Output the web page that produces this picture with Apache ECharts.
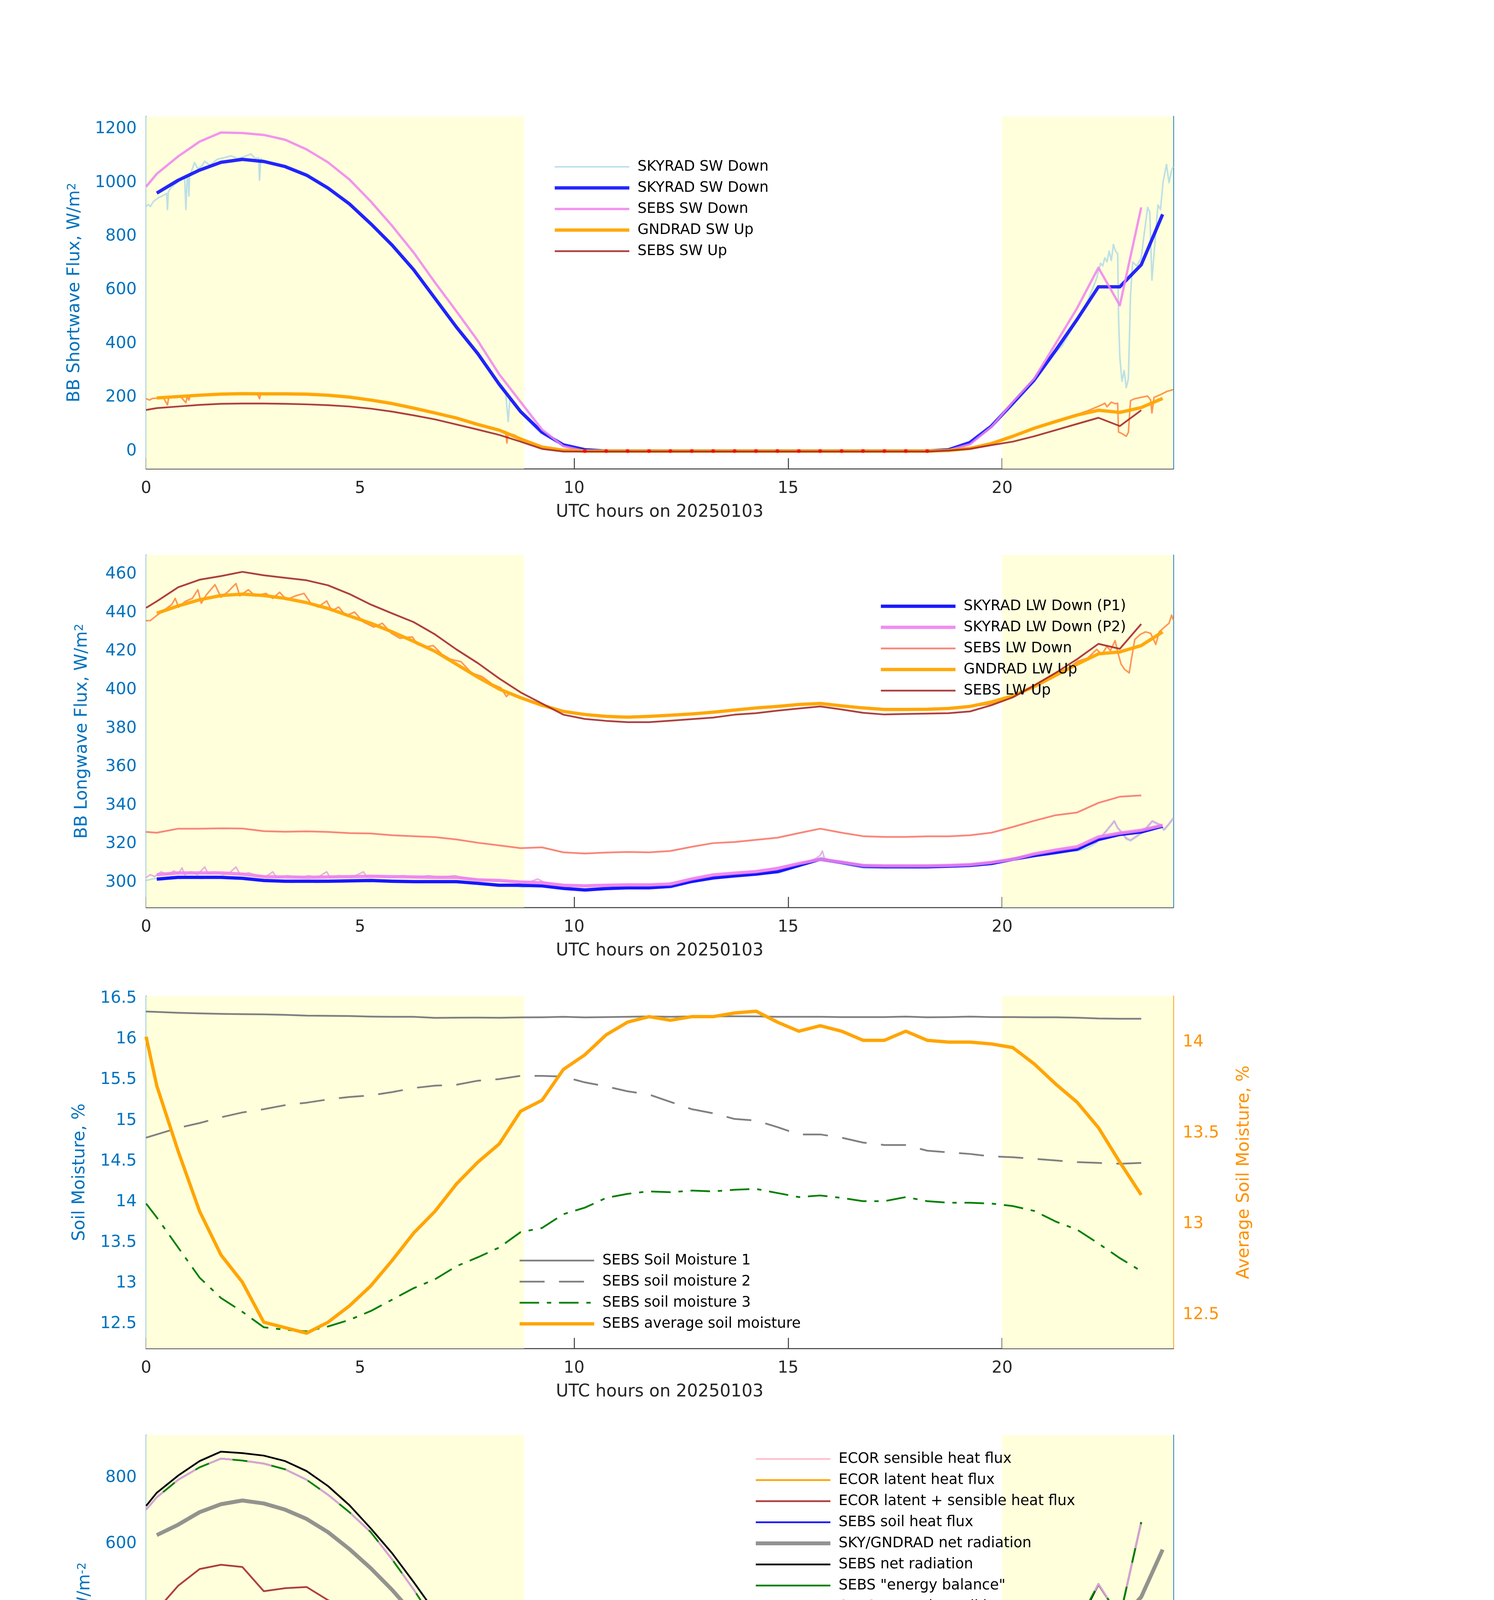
<!DOCTYPE html>
<html><head><meta charset="utf-8">
<script src="https://cdn.jsdelivr.net/npm/echarts@6/dist/echarts.min.js"></script>
<style>html,body{margin:0;padding:0;background:#fff}#c{width:3825px;height:4875px}</style>
</head><body><div id="c"></div>
<script>
// ---------- time axes (UTC hours) ----------
const tSebs = [0,0.25,0.75,1.25,1.75,2.25,2.75,3.25,3.75,4.25,4.75,5.25,5.75,6.25,6.75,7.25,7.75,8.25,8.75,9.25,9.75,10.25,10.75,11.25,11.75,12.25,12.75,13.25,13.75,14.25,14.75,15.25,15.75,16.25,16.75,17.25,17.75,18.25,18.75,19.25,19.75,20.25,20.75,21.25,21.75,22.25,22.75,23.25];
const tRad = [0.25,0.75,1.25,1.75,2.25,2.75,3.25,3.75,4.25,4.75,5.25,5.75,6.25,6.75,7.25,7.75,8.25,8.75,9.25,9.75,10.25,10.75,11.25,11.75,12.25,12.75,13.25,13.75,14.25,14.75,15.25,15.75,16.25,16.75,17.25,17.75,18.25,18.75,19.25,19.75,20.25,20.75,21.25,21.75,22.25,22.75,23.25,23.75];
const nightBands = [[0, 8.83], [20, 24]];
const xTicks = [0,5,10,15,20];

// ---------- panel 1: shortwave ----------
const swTicks = [0,200,400,600,800,1000,1200];
const skyradSwDown1min = [[0,911],[0.05,919],[0.1,911],[0.17,930],[0.3,945],[0.4,952],[0.48,960],[0.5,900],[0.52,965],[0.57,980],[0.72,1000],[0.82,1015],[0.9,1018],[0.93,900],[0.96,1022],[0.98,1025],[1.0,950],[1.02,1030],[1.05,1036],[1.13,1075],[1.21,1052],[1.3,1062],[1.37,1080],[1.49,1064],[1.66,1087],[1.82,1093],[1.98,1100],[2.14,1090],[2.31,1098],[2.45,1107],[2.55,1090],[2.63,1092],[2.65,1009],[2.68,1090],[2.75,1080],[3.25,1058],[3.75,1026],[4.25,978],[4.75,918],[5.25,845],[5.75,764],[6.25,673],[6.75,566],[7.25,459],[7.75,360],[8.25,245],[8.4,217],[8.46,110],[8.5,194],[8.76,142],[8.92,121],[9.13,89],[9.25,70],[9.75,20],[10.25,3],[10.75,0],[18.25,0],[18.75,4],[19.25,28],[19.75,88],[20.25,172],[20.75,258],[21.25,368],[21.4,392],[21.75,488],[22.0,560],[22.2,640],[22.3,700],[22.35,690],[22.4,720],[22.45,705],[22.5,745],[22.55,710],[22.6,770],[22.65,745],[22.7,735],[22.72,500],[22.75,350],[22.8,260],[22.85,300],[22.9,236],[22.95,270],[23.0,581],[23.05,704],[23.15,690],[23.25,720],[23.33,823],[23.4,908],[23.45,890],[23.5,637],[23.56,755],[23.64,917],[23.7,900],[23.76,1002],[23.84,1068],[23.9,1000],[23.95,1040],[24,1061]];
const skyradSwDown = [961,1009,1047,1076,1087,1079,1060,1028,980,921,847,767,676,569,462,363,249,147,70,23,5,0,0,0,0,0,0,0,0,0,0,0,0,0,0,0,0,5,32,93,178,265,375,490,612,612,694,882];
const sebsSwDown = [985,1033,1098,1153,1187,1185,1178,1160,1124,1076,1012,930,839,740,628,521,411,286,183,80,18,0,0,0,0,0,0,0,0,0,0,0,0,0,0,0,0,0,3,25,90,183,270,400,532,683,543,908];
const gndradSwUp = [198,203,208,212,214,213,213,212,208,201,190,177,160,142,123,99,78,45,15,3,0,0,0,0,0,0,0,0,0,0,0,0,0,0,0,0,0,2,10,28,55,85,110,134,152,144,162,196];
const gndradSwUp1min = [[0,195],[0.08,190],[0.15,196],[0.25,197],[0.4,200],[0.5,172],[0.53,201],[0.8,204],[0.93,180],[0.96,205],[1.0,190],[1.03,207],[1.3,209],[1.6,212],[2.0,214],[2.6,213],[2.65,195],[2.68,213],[3.25,212],[4.25,207],[5.25,189],[6.25,159],[7.25,122],[7.75,98],[8.25,77],[8.4,72],[8.43,30],[8.46,65],[8.6,60],[8.75,45],[9.25,15],[9.75,3],[10.25,0],[18.75,2],[19.25,10],[19.75,28],[20.25,55],[20.75,85],[21.25,110],[21.75,136],[22.0,150],[22.3,170],[22.4,178],[22.45,165],[22.55,182],[22.65,176],[22.7,178],[22.72,71],[22.8,65],[22.9,55],[22.95,70],[23.0,188],[23.1,195],[23.25,200],[23.4,205],[23.47,190],[23.5,142],[23.55,200],[23.7,210],[23.85,222],[24,229]];
const sebsSwUp = [153,160,166,172,176,177,177,176,174,171,166,158,147,133,118,99,80,60,35,8,-2,-2,-2,-2,-2,-2,-2,-2,-2,-2,-2,-2,-2,-2,-2,-2,-2,-2,2,8,22,35,55,78,101,124,93,152];
const swFlagT = [10.25,10.75,11.25,11.75,12.25,12.75,13.25,13.75,14.25,14.75,15.25,15.75,16.25,16.75,17.25,17.75,18.25];
const swFlagV = [0,0,0,0,0,0,0,0,0,0,0,0,0,0,0,0,0];

// ---------- panel 2: longwave ----------
const lwTicks = [300,320,340,360,380,400,420,440,460];
const skyLwP1 = [301.7,302.6,302.6,302.6,302.1,301.0,300.6,300.6,300.6,300.8,301.0,300.6,300.4,300.4,300.4,299.5,298.5,298.5,298.2,296.9,296.1,296.8,297.2,297.2,297.9,300.5,302.3,303.4,304.3,305.6,308.8,312.0,310.3,308.4,308.1,308.1,308.1,308.4,308.8,309.8,312.0,313.9,315.5,317.2,322.3,324.9,326.2,329.2];
const skyLwP2 = [304.0,304.9,304.9,304.9,304.3,303.0,302.8,302.6,302.8,303.0,303.2,303.0,302.8,302.6,302.6,301.3,301.0,300.2,299.8,298.5,298.2,298.5,298.7,298.7,299.1,301.8,303.9,304.8,305.6,307.2,309.8,312.0,310.5,308.8,308.6,308.6,308.6,308.8,309.2,310.4,312.0,314.8,316.8,318.5,323.6,325.6,327.1,329.7];
const skyLwP1min = [[0,301],[0.2,302],[0.4,301.5],[0.6,303],[0.8,302],[1.0,303],[1.3,302],[1.6,303],[1.9,302],[2.2,302.5],[2.5,301.5],[2.8,300.5],[3.1,301],[3.4,300],[3.7,300.8],[4.0,300],[4.3,301],[4.6,300.2],[4.9,301],[5.2,300.5],[5.5,301],[5.8,300.2],[6.1,300.6],[6.4,300],[6.7,300.6],[7.0,300],[7.3,300.4],[7.6,299.5],[7.9,299],[8.2,298.5],[8.5,298.8],[8.8,297.5],[9.1,298.5],[9.4,298],[9.7,297],[10.0,296.3],[10.3,295.5],[10.6,296.5],[11,297],[12,297.5],[12.5,299.5],[13,301.5],[14,303.8],[14.8,305],[15,306.5],[15.5,310.5],[15.8,313],[16,311],[16.5,308.5],[16.8,307.3],[17,307.5],[17.5,307.8],[18,307.6],[18.5,308],[19,308.5],[19.5,309.3],[20,310.8],[20.5,313],[21,314.8],[21.5,316.3],[21.8,316.5],[22,318],[22.2,320.5],[22.4,325.5],[22.55,329.5],[22.62,331.5],[22.7,328],[22.8,325.5],[22.9,322.5],[23.0,321.5],[23.1,323],[23.2,324.5],[23.35,327.5],[23.45,330],[23.51,331.5],[23.6,330.5],[23.7,329.5],[23.78,327],[23.88,329.5],[24,333]];
const skyLwP2min = [[0,302.5],[0.1,304],[0.2,303],[0.35,305.5],[0.5,304],[0.65,306],[0.75,304.5],[0.84,307.5],[0.9,304],[1.05,305.5],[1.2,304],[1.37,308],[1.45,304.5],[1.6,305.5],[1.8,304],[1.95,305],[2.1,308],[2.2,304],[2.4,305],[2.6,303.5],[2.8,303],[2.96,305.5],[3.05,302.5],[3.3,303.5],[3.6,302.5],[3.8,303.5],[4.0,302.5],[4.22,305.5],[4.3,302.5],[4.5,303.5],[4.8,302.5],[5.08,305.5],[5.15,303],[5.4,303.5],[5.7,302.5],[6.0,303.5],[6.3,302.5],[6.6,303.5],[6.9,302.5],[7.2,303.5],[7.5,302],[7.8,301.5],[8.1,301],[8.4,300.5],[8.7,300.3],[9.0,300.5],[9.15,301.8],[9.3,300],[9.6,298.8],[9.9,298.3],[12,298.8],[13,302.5],[14,305],[15,308.5],[15.5,311],[15.65,312.5],[15.75,314],[15.8,316.3],[15.85,312.5],[16,311.5],[16.5,309.5],[17,308.5],[17.5,308.6],[18,308.3],[18.5,308.7],[19,309],[19.5,309.8],[20,311.2],[20.5,313.5],[21,315.8],[21.5,317.6],[21.8,318],[22.0,319.5],[22.2,321],[22.4,326],[22.55,330],[22.62,332],[22.7,328.5],[22.8,326],[22.9,323],[23.0,322],[23.1,323.5],[23.2,325],[23.35,328],[23.45,330.5],[23.51,332],[23.6,331],[23.7,330],[23.78,327.5],[23.88,330],[24,333.5]];
const sebsLwDown = [326.2,325.8,327.9,327.9,328.1,328.0,326.6,326.3,326.5,326.2,325.6,325.4,324.5,324.0,323.5,322.3,320.6,319.2,317.8,318.2,315.6,315.0,315.5,315.8,315.6,316.3,318.5,320.4,321.0,322.1,323.2,325.6,327.9,325.8,324.0,323.6,323.6,323.9,323.9,324.5,325.8,328.8,332.0,334.9,336.3,341.3,344.5,345.2];
const gndradLwUp = [439.8,443.6,446.8,449.0,449.7,449.0,447.5,445.3,442.3,438.4,434.6,430.1,425.2,420.0,413.3,406.6,400.4,395.9,392.0,388.8,387.2,386.2,385.8,386.2,386.8,387.5,388.4,389.5,390.6,391.4,392.4,392.9,391.7,390.6,389.8,389.8,389.9,390.3,391.4,393.7,396.9,401.7,407.5,413.3,418.7,419.7,423.0,430.1];
const gndradLwUp1min = [[0,435.9],[0.1,436],[0.27,439],[0.4,441],[0.6,444.3],[0.68,447.5],[0.76,443],[0.92,446],[1.08,447.5],[1.21,452],[1.29,445],[1.41,449.4],[1.61,454.6],[1.75,448.1],[1.9,450.7],[2.1,455.2],[2.19,448.8],[2.39,452],[2.55,448.8],[2.8,450.1],[2.96,447.5],[3.12,450.7],[3.28,446.8],[3.49,448.8],[3.69,450.1],[3.85,444.9],[4.02,443],[4.22,446.2],[4.34,441],[4.5,443],[4.67,438.5],[4.87,440.4],[5.08,435.2],[5.32,432.6],[5.52,434.6],[5.73,429.4],[5.93,426.8],[6.22,427.5],[6.34,423.6],[6.54,422.3],[6.71,423],[6.91,418.5],[7.11,415.9],[7.36,414.6],[7.6,408.8],[7.85,406.9],[8.09,403],[8.29,401],[8.42,396.5],[8.5,398.5],[8.74,396.5],[8.99,394],[9.5,390.3],[10,387.8],[11,386],[12,386.5],[13,388],[14,390],[15,392],[15.75,393.3],[16.5,391.2],[17.5,389.8],[18.5,390.1],[19.25,391.5],[19.77,392.7],[20.25,396.5],[20.74,402.3],[21.25,408.8],[21.51,410.7],[21.76,414.8],[22.0,416.5],[22.21,421],[22.33,418.4],[22.45,422.6],[22.53,420.4],[22.64,425.6],[22.7,419.7],[22.78,413.3],[22.86,410.7],[22.97,408.8],[23.02,415.9],[23.1,426.2],[23.23,428.8],[23.35,430.1],[23.47,429.4],[23.59,423.6],[23.67,430.1],[23.8,432.7],[23.9,434.6],[23.96,438.8],[24,436.3]];
const sebsLwUp = [442.6,446.0,453.3,457.2,459.1,461.3,459.5,458.2,456.9,454.3,449.8,444.3,439.7,435.2,428.8,421.0,413.9,405.9,398.7,392.9,387.1,384.9,383.9,383.2,383.2,384.0,384.8,385.6,387.1,387.9,389.2,390.3,391.4,389.8,388.1,387.2,387.5,387.7,387.9,388.8,392.0,396.1,402.3,408.8,415.9,423.9,421.3,434.2];

// ---------- panel 3: soil moisture ----------
const smTicksL = [12.5,13,13.5,14,14.5,15,15.5,16,16.5];
const smTicksR = [12.5,13,13.5,14];
const soilM1 = [16.34,16.335,16.325,16.318,16.312,16.308,16.305,16.300,16.290,16.288,16.285,16.278,16.275,16.276,16.262,16.265,16.266,16.264,16.268,16.270,16.276,16.268,16.272,16.276,16.280,16.276,16.280,16.280,16.282,16.280,16.276,16.276,16.276,16.272,16.272,16.272,16.278,16.270,16.272,16.278,16.272,16.272,16.270,16.270,16.265,16.255,16.252,16.251];
const soilM2 = [14.79,14.83,14.91,14.97,15.04,15.10,15.14,15.19,15.22,15.26,15.29,15.31,15.35,15.40,15.43,15.44,15.49,15.51,15.55,15.55,15.54,15.47,15.42,15.36,15.32,15.23,15.14,15.09,15.02,15.00,14.92,14.83,14.83,14.79,14.73,14.70,14.70,14.63,14.61,14.59,14.56,14.55,14.53,14.51,14.49,14.48,14.47,14.48];
const soilM3 = [13.98,13.81,13.44,13.07,12.82,12.65,12.46,12.43,12.41,12.47,12.55,12.66,12.80,12.94,13.05,13.21,13.32,13.44,13.63,13.68,13.85,13.93,14.05,14.10,14.13,14.12,14.14,14.13,14.15,14.16,14.11,14.06,14.08,14.05,14.01,14.01,14.06,14.01,13.99,13.99,13.98,13.95,13.89,13.76,13.66,13.49,13.31,13.15];
const soilAvg = [14.03,13.76,13.40,13.07,12.83,12.68,12.46,12.43,12.40,12.46,12.55,12.66,12.80,12.95,13.07,13.22,13.34,13.44,13.62,13.68,13.85,13.93,14.04,14.11,14.14,14.12,14.14,14.14,14.16,14.17,14.11,14.06,14.09,14.06,14.01,14.01,14.06,14.01,14.00,14.00,13.99,13.97,13.88,13.77,13.67,13.53,13.34,13.16];

// ---------- panel 4: energy fluxes ----------
const fluxTicks = [0,200,400,600,800];
const ecorSens = [251.1,266.2,297.8,330.3,380.8,355.1,326.5,334.0,341.6,318.9,300.1,266.2,217.2,194.5,174.2,115.4,91.2,40.0,17.3,-16.6,-36.9,-37.0,-38.0,-41.0,-44.0,-50.5,-47.0,-43.0,-44.0,-43.5,-45.2,-46.7,-52.8,-49.0,-39.2,-43.0,-56.6,-59.6,-58.1,-50.5,-12.8,6.0,55.0,107.8,151.6,190.8,190.8,256.4];
const ecorLat = [141.8,132.0,175.7,193.8,156.8,174.2,130.4,132.0,128.2,110.1,98.8,79.9,67.9,62.6,46.0,30.2,24.9,7.5,13.6,40.0,4.5,2.3,1.5,2.3,7.5,4.5,11.3,0.8,-3.0,-5.3,0.8,-9.0,-20.4,2.3,7.5,2.3,2.3,2.3,8.3,12.1,24.9,32.4,30.9,52.8,49.0,47.5,62.6,51.3];
const ecorLatSens = [390.6,399.6,473.5,524.0,536.9,530.1,456.9,466.0,469.7,429.8,400.4,345.3,285.0,256.4,220.9,147.0,116.9,47.5,21.1,21.1,-33.2,-35.4,-36.9,-38.5,-37.7,-43.0,-37.0,-36.9,-40.7,-48.3,-37.7,-52.0,-74.6,-46.7,-33.2,-39.2,-52.8,-54.3,-54.3,-43.0,-3.8,36.2,82.9,158.3,202.1,238.3,253.3,306.1];
const soilHeat = [-11.3,-13,-17,-20.4,-22.5,-24.1,-25,-25.6,-25.3,-24.5,-23.5,-22,-20.4,-18.5,-16.5,-14.5,-12,-9.5,-6,-3,-0.8,1.5,2.3,3,3.5,3.8,4.5,4.5,4.5,4.5,4.5,4.2,4.0,3.8,3.8,3.8,3.8,3.8,3.5,3.2,3.0,2.6,2.3,1.8,0.8,-0.5,-3,-3.8];
const skyNetRad = [626.6,658.2,696.0,720.1,731.4,722.3,703.5,675.6,635.6,584.4,526.3,460.7,386.8,307.6,224.7,145.5,70.1,6.0,-49.0,-79.2,-88.2,-88.2,-88.0,-87.5,-86.7,-86.0,-85.2,-85.0,-85.0,-84.5,-83.7,-82.2,-82.2,-82.5,-82.9,-82.5,-82.2,-79.2,-61.8,-20.4,40.0,107.8,187.0,266.2,360.4,368.0,439.6,582.8];
const sebsNetRad = [714.8,754.8,806.8,850.5,879.2,874.6,867.1,850.5,820.4,775.1,717.1,646.9,571.5,484.8,394.3,300.1,213.4,126.7,47.5,-16.6,-69.4,-76.9,-74.6,-73.1,-73.1,-73.1,-72.0,-70.9,-71.5,-71.5,-71.5,-70.0,-67.9,-69.4,-70.0,-69.4,-68.6,-67.9,-67.1,-46.7,2.3,73.9,153.1,251.1,349.1,477.3,377.8,665.8];
const energyBal = [703.5,741.2,794.0,831.7,858.1,852.1,843.0,825.6,794.0,748.7,696.0,635.6,552.7,462.2,364.2,273.7,194.5,119.1,55.0,-20.4,-65.6,-71.6,-69.4,-67.9,-67.9,-67.9,-66.5,-65.6,-66.0,-66.4,-66.0,-65.6,-63.5,-65.6,-66.0,-65.6,-64.8,-64.1,-61.8,-43.0,6.0,81.4,160.6,258.6,356.6,478.8,377.8,665.8];
const netRadSoil = [703.5,741.2,794.0,831.7,858.1,852.1,843.0,825.6,794.0,748.7,696.0,635.6,552.7,462.2,364.2,273.7,194.5,119.1,55.0,-20.4,-65.6,-71.6,-69.4,-67.9,-67.9,-67.9,-66.5,-65.6,-66.0,-66.4,-66.0,-65.6,-63.5,-65.6,-66.0,-65.6,-64.8,-64.1,-61.8,-43.0,6.0,81.4,160.6,258.6,356.6,478.8,377.8,665.8];
const ecorFlagT = [8.25,14.25,14.75,16.75];
const ecorFlagLat = [7.5,-5.3,0.8,7.5];
const ecorFlagLatSens = [47.5,-48.3,-37.7,-33.2];

// ---------- build ----------
const FONT = 'DejaVu Sans';
const AXB = '#0072BD', AXO = '#FF9200', XC = '#262626', XL = '#3a3a3a';
const gridTop = [298, 1421, 2550, 3674];
const yRange = [[-66, 1247], [287, 470], [12.2, 16.53], [-137, 929]];
const zip = (t, v) => t.map((x, i) => [x, v[i]]);
const plain = v => String(v);

const grid = gridTop.map(t => ({left: 374, top: t, width: 2630, height: 902}));
const xAxis = gridTop.map((t, i) => ({
  type: 'value', gridIndex: i, min: 0, max: 24,
  name: 'UTC hours on 20250103', nameLocation: 'middle', nameGap: 112,
  nameTextStyle: {fontFamily: FONT, fontSize: 44, color: XC, verticalAlign: 'middle'},
  axisLine: {show: true, onZero: false, lineStyle: {color: XL, width: 2.5}},
  axisTick: {show: true, inside: true, length: 27, lineStyle: {color: XL, width: 2.5}, customValues: xTicks},
  axisLabel: {fontFamily: FONT, fontSize: 42, color: XC, margin: 30, customValues: xTicks, formatter: plain},
  splitLine: {show: false}
}));
function yLeft(i, ticks, name, gap) {
  return {type: 'value', gridIndex: i, position: 'left', min: yRange[i][0], max: yRange[i][1],
    name, nameLocation: 'middle', nameGap: gap, nameRotate: 90,
    nameTextStyle: {fontFamily: FONT, fontSize: 44, color: AXB, verticalAlign: 'middle',
      rich: {sup: {fontFamily: FONT, fontSize: 30, color: AXB, lineHeight: 26, verticalAlign: 'top'}}},
    axisLine: {show: true, onZero: false, lineStyle: {color: AXB, width: 2.5}},
    axisTick: {show: true, inside: true, length: 27, lineStyle: {color: AXB, width: 2.5}, customValues: ticks},
    axisLabel: {fontFamily: FONT, fontSize: 42, color: AXB, margin: 24, customValues: ticks, formatter: plain},
    splitLine: {show: false}};
}
function yRightPlain(i) {
  return {type: 'value', gridIndex: i, position: 'right', min: yRange[i][0], max: yRange[i][1],
    axisLine: {show: true, onZero: false, lineStyle: {color: AXB, width: 2.5}},
    axisTick: {show: false}, axisLabel: {show: false}, splitLine: {show: false}};
}
const yAxis = [
  yLeft(0, swTicks, 'BB Shortwave Flux, W/m{sup|2}', 182), yRightPlain(0),
  yLeft(1, lwTicks, 'BB Longwave Flux, W/m{sup|2}', 163), yRightPlain(1),
  yLeft(2, smTicksL, 'Soil Moisture, %', 169),
  {type: 'value', gridIndex: 2, position: 'right', min: 12.316, max: 14.253,
    name: 'Average Soil Moisture, %', nameLocation: 'middle', nameGap: 182, nameRotate: 90,
    nameTextStyle: {fontFamily: FONT, fontSize: 44, color: AXO, verticalAlign: 'middle'},
    axisLine: {show: true, onZero: false, lineStyle: {color: AXO, width: 2.5}},
    axisTick: {show: true, inside: true, length: 27, lineStyle: {color: AXO, width: 2.5}, customValues: smTicksR},
    axisLabel: {fontFamily: FONT, fontSize: 42, color: AXO, margin: 24, customValues: smTicksR, formatter: plain},
    splitLine: {show: false}},
  yLeft(3, fluxTicks, 'Flux, W/m{sup|-2}', 156), yRightPlain(3)
];

function band(i) {
  return {type: 'line', name: 'band' + i, xAxisIndex: i, yAxisIndex: 2 * i,
    data: [[0, yRange[i][0]], [24, yRange[i][0]]], symbol: 'none', lineStyle: {opacity: 0}, silent: true, z: 1,
    markArea: {silent: true, itemStyle: {color: '#FFFFDC', opacity: 1},
      data: nightBands.map(b => [{xAxis: b[0]}, {xAxis: b[1]}])}};
}
function ln(name, i, yi, data, color, width, op, dash, z) {
  return {type: 'line', name, xAxisIndex: i, yAxisIndex: yi, data, symbol: 'none', showSymbol: false,
    lineStyle: {color, width, opacity: op, type: dash || 'solid', cap: 'butt', join: 'round'},
    itemStyle: {color, opacity: op}, z: z || 3, silent: true};
}
function dots(name, i, yi, data) {
  return {type: 'scatter', name, xAxisIndex: i, yAxisIndex: yi, data, symbol: 'circle', symbolSize: 10,
    itemStyle: {color: '#FF0000'}, z: 8, silent: true};
}

const series = [
  band(0), band(1), band(2), band(3),
  // panel 1
  ln('SKYRAD SW Down', 0, 0, skyradSwDown1min, '#ADD8E6', 4, 0.8),
  ln('SKYRAD SW Down ', 0, 0, zip(tRad, skyradSwDown), '#0000FF', 8.5, 0.85),
  ln('SEBS SW Down', 0, 0, zip(tSebs, sebsSwDown), '#EE82EE', 6, 0.85),
  ln('gnd1minSW', 0, 0, gndradSwUp1min, '#FF8C42', 4, 0.9),
  ln('GNDRAD SW Up', 0, 0, zip(tRad, gndradSwUp), '#FFA500', 8.5, 0.95),
  ln('SEBS SW Up', 0, 0, zip(tSebs, sebsSwUp), '#A52A2A', 4.5, 0.9),
  dots('swFlag', 0, 0, zip(swFlagT, swFlagV)),
  // panel 2
  ln('lwP1min', 1, 2, skyLwP1min, '#ADD8E6', 4, 0.8),
  ln('lwP2min', 1, 2, skyLwP2min, '#DDA0DD', 4, 0.8),
  ln('SKYRAD LW Down (P1)', 1, 2, zip(tRad, skyLwP1), '#0000FF', 8.5, 0.9),
  ln('SKYRAD LW Down (P2)', 1, 2, zip(tRad, skyLwP2), '#EE82EE', 8.5, 0.9),
  ln('SEBS LW Down', 1, 2, zip(tSebs, sebsLwDown), '#FA8072', 4.5, 0.95),
  ln('gnd1minLW', 1, 2, gndradLwUp1min, '#FF8C42', 4, 0.9),
  ln('GNDRAD LW Up', 1, 2, zip(tRad, gndradLwUp), '#FFA500', 8.5, 0.95),
  ln('SEBS LW Up', 1, 2, zip(tSebs, sebsLwUp), '#A52A2A', 4.5, 0.9),
  // panel 3
  ln('SEBS Soil Moisture 1', 2, 4, zip(tSebs, soilM1), '#808080', 4.5, 1),
  ln('SEBS soil moisture 2', 2, 4, zip(tSebs, soilM2), '#808080', 4.5, 1, [64, 37]),
  ln('SEBS soil moisture 3', 2, 4, zip(tSebs, soilM3), '#008000', 4.5, 1, [50, 20, 11, 20]),
  ln('SEBS average soil moisture', 2, 5, zip(tSebs, soilAvg), '#FFA500', 8.5, 1),
  // panel 4
  ln('ECOR sensible heat flux', 3, 6, zip(tSebs, ecorSens), '#FFC0CB', 4.5, 1),
  ln('ECOR latent heat flux', 3, 6, zip(tSebs, ecorLat), '#FFA500', 4.5, 1),
  ln('ECOR latent + sensible heat flux', 3, 6, zip(tSebs, ecorLatSens), '#A52A2A', 4.5, 0.9),
  ln('SEBS soil heat flux', 3, 6, zip(tSebs, soilHeat), '#0000FF', 4.5, 0.9),
  ln('SKY/GNDRAD net radiation', 3, 6, zip(tRad, skyNetRad), '#808080', 10, 0.85),
  ln('SEBS net radiation', 3, 6, zip(tSebs, sebsNetRad), '#000000', 4.5, 1),
  ln('SEBS "energy balance"', 3, 6, zip(tSebs, energyBal), '#008000', 4.5, 1),
  ln('SEBS net rad + soil heat', 3, 6, zip(tSebs, netRadSoil), '#DDA0DD', 4.5, 1, [63, 38]),
  dots('flagLat', 3, 6, zip(ecorFlagT, ecorFlagLat)),
  dots('flagLatSens', 3, 6, zip(ecorFlagT, ecorFlagLatSens))
];

function leg(left, top, names) {
  return {show: true, orient: 'vertical', left, top, itemWidth: 191, itemHeight: 14, itemGap: 10,
    selectedMode: false, data: names,
    itemStyle: {opacity: 0, borderWidth: 0},
    lineStyle: {width: 'inherit', type: 'inherit', opacity: 'inherit'},
    textStyle: {fontFamily: FONT, fontSize: 37, color: '#000', lineHeight: 44, padding: [0, 0, 0, 16]}};
}
const legend = [
  leg(1411, 400, ['SKYRAD SW Down', 'SKYRAD SW Down ', 'SEBS SW Down', 'GNDRAD SW Up', 'SEBS SW Up']),
  leg(2246, 1525, ['SKYRAD LW Down (P1)', 'SKYRAD LW Down (P2)', 'SEBS LW Down', 'GNDRAD LW Up', 'SEBS LW Up']),
  leg(1321, 3200, ['SEBS Soil Moisture 1', 'SEBS soil moisture 2', 'SEBS soil moisture 3', 'SEBS average soil moisture']),
  leg(1925, 3708, ['ECOR sensible heat flux', 'ECOR latent heat flux', 'ECOR latent + sensible heat flux', 'SEBS soil heat flux', 'SKY/GNDRAD net radiation', 'SEBS net radiation', 'SEBS "energy balance"', 'SEBS net rad + soil heat'])
];

const chart = echarts.init(document.getElementById('c'), null, {renderer: 'canvas'});
chart.setOption({
  animation: false, backgroundColor: '#ffffff',
  textStyle: {fontFamily: FONT},
  grid, xAxis, yAxis, legend, series
});
</script>
</body></html>
